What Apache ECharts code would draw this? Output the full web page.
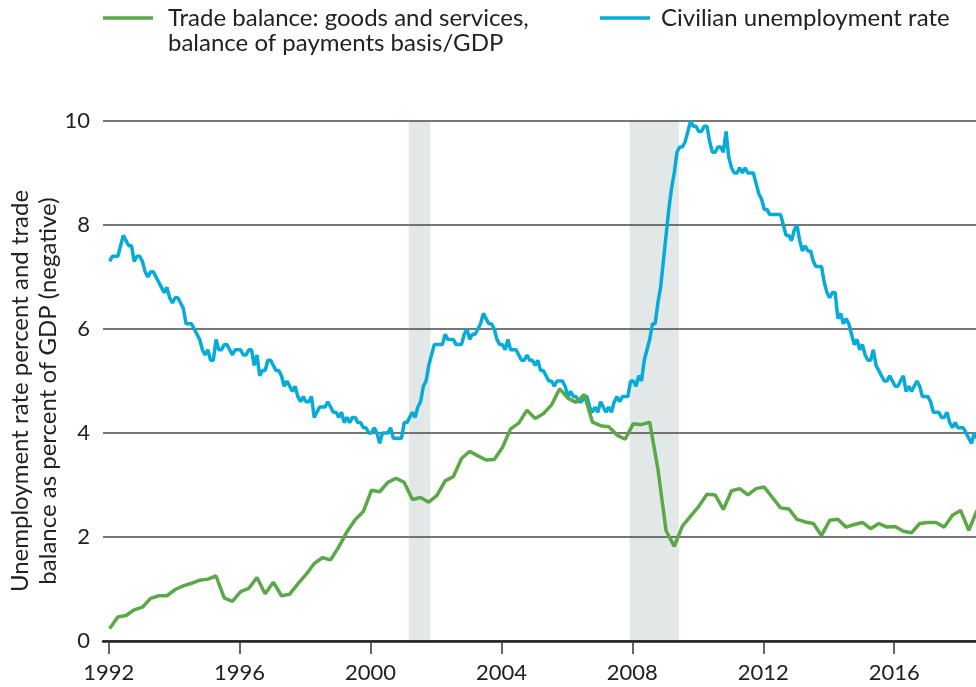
<!DOCTYPE html>
<html>
<head>
<meta charset="utf-8">
<script src="https://cdn.jsdelivr.net/npm/echarts@6/dist/echarts.min.js"></script>
<style>
  html, body { margin: 0; padding: 0; background: #fff; }
  #chart { width: 976px; height: 687px; }
</style>
</head>
<body>
<div id="chart"></div>
<script>
// monthly civilian unemployment rate, Jan 1992 onwards (percent)
const unemployment = [
  7.3, 7.4, 7.4, 7.4, 7.6, 7.8, 7.7, 7.6, 7.6, 7.3, 7.4, 7.4,
  7.3, 7.1, 7.0, 7.1, 7.1, 7.0, 6.9, 6.8, 6.7, 6.8, 6.6, 6.5,
  6.6, 6.6, 6.5, 6.4, 6.1, 6.1, 6.1, 6.0, 5.9, 5.8, 5.6, 5.5,
  5.6, 5.4, 5.4, 5.8, 5.6, 5.6, 5.7, 5.7, 5.6, 5.5, 5.6, 5.6,
  5.6, 5.5, 5.5, 5.6, 5.6, 5.3, 5.5, 5.1, 5.2, 5.2, 5.4, 5.4,
  5.3, 5.2, 5.2, 5.1, 4.9, 5.0, 4.9, 4.8, 4.9, 4.7, 4.6, 4.7,
  4.6, 4.6, 4.7, 4.3, 4.4, 4.5, 4.5, 4.5, 4.6, 4.5, 4.4, 4.4,
  4.3, 4.4, 4.2, 4.3, 4.2, 4.3, 4.3, 4.2, 4.2, 4.1, 4.1, 4.0,
  4.0, 4.1, 4.0, 3.8, 4.0, 4.0, 4.0, 4.1, 3.9, 3.9, 3.9, 3.9,
  4.2, 4.2, 4.3, 4.4, 4.3, 4.5, 4.6, 4.9, 5.0, 5.3, 5.5, 5.7,
  5.7, 5.7, 5.7, 5.9, 5.8, 5.8, 5.8, 5.7, 5.7, 5.7, 5.9, 6.0,
  5.8, 5.9, 5.9, 6.0, 6.1, 6.3, 6.2, 6.1, 6.1, 6.0, 5.8, 5.7,
  5.7, 5.6, 5.8, 5.6, 5.6, 5.6, 5.5, 5.4, 5.4, 5.5, 5.4, 5.4,
  5.3, 5.4, 5.2, 5.2, 5.1, 5.0, 5.0, 4.9, 5.0, 5.0, 5.0, 4.9,
  4.7, 4.8, 4.7, 4.7, 4.6, 4.6, 4.7, 4.7, 4.5, 4.4, 4.5, 4.4,
  4.6, 4.5, 4.4, 4.5, 4.4, 4.6, 4.7, 4.6, 4.7, 4.7, 4.7, 5.0,
  5.0, 4.9, 5.1, 5.0, 5.4, 5.6, 5.8, 6.1, 6.1, 6.5, 6.8, 7.3,
  7.8, 8.3, 8.7, 9.0, 9.4, 9.5, 9.5, 9.6, 9.8, 10.0, 9.9, 9.9,
  9.8, 9.8, 9.9, 9.9, 9.6, 9.4, 9.4, 9.5, 9.5, 9.4, 9.8, 9.3,
  9.1, 9.0, 9.0, 9.1, 9.0, 9.1, 9.0, 9.0, 9.0, 8.8, 8.6, 8.5,
  8.3, 8.3, 8.2, 8.2, 8.2, 8.2, 8.2, 8.0, 7.8, 7.8, 7.7, 7.9,
  8.0, 7.7, 7.5, 7.6, 7.5, 7.5, 7.3, 7.2, 7.2, 7.2, 6.9, 6.7,
  6.6, 6.7, 6.7, 6.2, 6.3, 6.1, 6.2, 6.1, 5.9, 5.7, 5.8, 5.6,
  5.7, 5.5, 5.4, 5.4, 5.6, 5.3, 5.2, 5.1, 5.0, 5.0, 5.1, 5.0,
  4.9, 4.9, 5.0, 5.1, 4.8, 4.9, 4.8, 4.9, 5.0, 4.9, 4.7, 4.7,
  4.7, 4.6, 4.4, 4.4, 4.4, 4.3, 4.3, 4.4, 4.2, 4.1, 4.2, 4.1,
  4.1, 4.1, 4.0, 3.9, 3.8, 4.0, 3.9
];

// quarterly trade balance / GDP (shown as positive = deficit), 1992 Q1 onwards
const tradeBalance = [
  0.24, 0.46, 0.49, 0.60,
  0.65, 0.82, 0.87, 0.87,
  0.99, 1.06, 1.11, 1.17,
  1.19, 1.25, 0.83, 0.76,
  0.95, 1.01, 1.22, 0.91,
  1.13, 0.87, 0.90, 1.10,
  1.28, 1.49, 1.60, 1.56,
  1.81, 2.10, 2.33, 2.49,
  2.90, 2.87, 3.05, 3.13,
  3.05, 2.72, 2.76, 2.67,
  2.80, 3.08, 3.16, 3.51,
  3.65, 3.56, 3.48, 3.49,
  3.72, 4.08, 4.19, 4.44,
  4.28, 4.37, 4.54, 4.85,
  4.67, 4.59, 4.74, 4.21,
  4.14, 4.12, 3.96, 3.88,
  4.18, 4.16, 4.21, 3.31,
  2.12, 1.82, 2.21, 2.40,
  2.59, 2.82, 2.81, 2.53,
  2.89, 2.93, 2.81, 2.93,
  2.96, 2.76, 2.56, 2.54,
  2.34, 2.29, 2.26, 2.03,
  2.32, 2.34, 2.19, 2.24,
  2.28, 2.16, 2.26, 2.19,
  2.20, 2.11, 2.08, 2.26,
  2.28, 2.28, 2.19, 2.42,
  2.51, 2.13, 2.51
];

const startYear = 1992;
const recessions = [[2001.17, 2001.83], [2007.92, 2009.42]];
const yearTicks = [1992, 1996, 2000, 2004, 2008, 2012, 2016];

const green = '#5aa846';
const blue = '#06abd8';
const font = 'Lato';

const unempData = unemployment.map((v, i) => [startYear + i / 12 + 0.03, v]);
const tradeData = tradeBalance.map((v, i) => [startYear + i / 4 + 0.03, v]);

const chart = echarts.init(document.getElementById('chart'));
chart.setOption({
  animation: false,
  backgroundColor: '#fff',
  textStyle: { fontFamily: font },
  grid: { left: 103, right: 0, top: 121, bottom: 46, outerBoundsMode: 'none', containLabel: false },
  xAxis: {
    type: 'value',
    min: 1991.826,
    max: 2018.5,
    z: 2,
    splitLine: { show: false },
    axisLine: { lineStyle: { color: '#222', width: 2.5 } },
    axisTick: {
      customValues: yearTicks,
      length: 13,
      lineStyle: { color: '#333', width: 1.5 }
    },
    axisLabel: {
      customValues: yearTicks,
      formatter: v => String(v),
      fontSize: 22,
      color: '#222',
      margin: 21
    }
  },
  yAxis: {
    type: 'value',
    min: 0,
    max: 10,
    interval: 2,
    z: 2,
    axisLine: { show: false },
    axisTick: { show: false },
    splitLine: { lineStyle: { color: '#4a4a4a', width: 1.5 } },
    axisLabel: { fontSize: 22, color: '#222', margin: 13 }
  },
  graphic: [
    // y-axis title, two centred lines reading bottom to top
    {
      type: 'text', x: 34, y: 391, rotation: Math.PI / 2,
      style: {
        text: 'Unemployment rate percent and trade\nbalance as percent of GDP (negative)',
        font: '24px Lato', fill: '#222', lineHeight: 28,
        align: 'center', verticalAlign: 'middle'
      }
    },
    // legend
    { type: 'line', shape: { x1: 103, y1: 18, x2: 153, y2: 18 }, style: { stroke: green, lineWidth: 3.5 } },
    { type: 'text', x: 168, y: 6, style: { text: 'Trade balance: goods and services,\nbalance of payments basis/GDP', font: '24px Lato', fill: '#222', lineHeight: 25, verticalAlign: 'top' } },
    { type: 'line', shape: { x1: 600, y1: 18, x2: 650, y2: 18 }, style: { stroke: blue, lineWidth: 3.5 } },
    { type: 'text', x: 661, y: 6, style: { text: 'Civilian unemployment rate', font: '24px Lato', fill: '#222', lineHeight: 25, verticalAlign: 'top' } }
  ],
  series: [
    {
      name: 'recessions',
      type: 'line',
      data: [],
      z: 0,
      silent: true,
      markArea: {
        silent: true,
        z: 0,
        itemStyle: { color: 'rgba(185,198,198,0.42)' },
        data: recessions.map(r => [{ xAxis: r[0] }, { xAxis: r[1] }])
      }
    },
    {
      name: 'Civilian unemployment rate',
      type: 'line',
      data: unempData,
      showSymbol: false,
      lineStyle: { color: blue, width: 3.5 },
      itemStyle: { color: blue },
      z: 3
    },
    {
      name: 'Trade balance',
      type: 'line',
      data: tradeData,
      showSymbol: false,
      lineStyle: { color: green, width: 3.5 },
      itemStyle: { color: green },
      z: 4
    }
  ]
});
</script>
</body>
</html>
